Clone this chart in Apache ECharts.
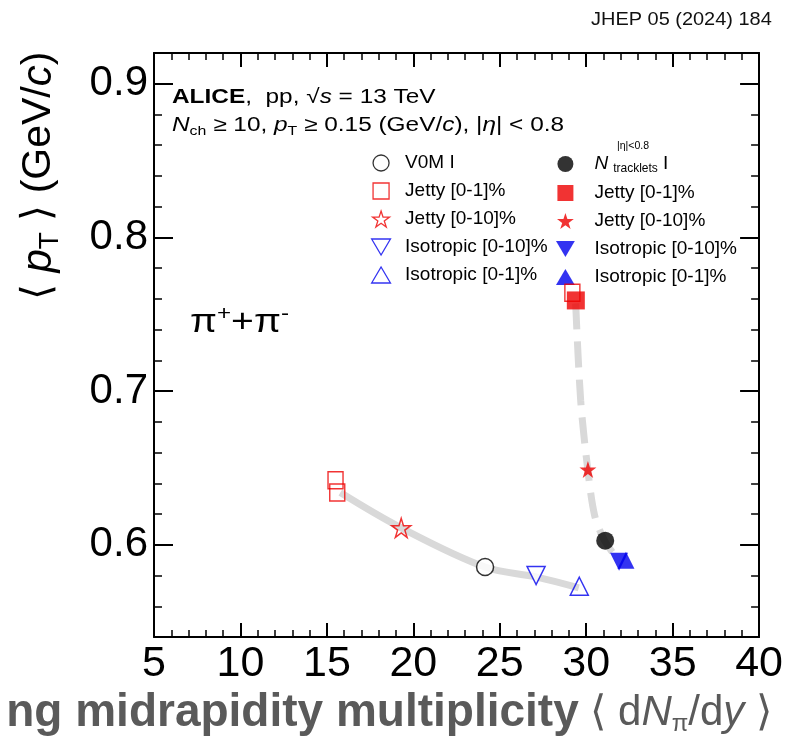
<!DOCTYPE html>
<html>
<head>
<meta charset="utf-8">
<script src="https://cdn.jsdelivr.net/npm/echarts@6/dist/echarts.min.js"></script>
<style>html,body{margin:0;padding:0;background:#fff}#c{width:786px;height:740px}</style>
</head>
<body>
<div id="c"></div>
<script>
// ---- data ----
const xTickValues = [5, 10, 15, 20, 25, 30, 35, 40];
const yTickValues = [0.6, 0.7, 0.8, 0.9];

// V0M-classified (open markers)
const v0mI = [[24.15, 0.5855]];
const v0mJetty01 = [[15.5, 0.642], [15.6, 0.634], [29.2, 0.764]];
const v0mJetty010 = [[19.3, 0.611]];
const v0mIso010 = [[27.1, 0.580]];
const v0mIso01 = [[29.6, 0.573]];
// Tracklet-classified (filled markers)
const trkI = [[31.1, 0.6027]];
const trkJetty01 = [[29.4, 0.759]];
const trkJetty010 = [[30.1, 0.649]];
const trkIso010 = [[31.9, 0.589]];
const trkIso01 = [[32.3, 0.590]];
// grey guide curves
const v0mCurve = [[15.78, 0.634], [19.3, 0.611], [24.15, 0.5855], [27.15, 0.579], [29.57, 0.572]];
const trkCurve = [[29.39, 0.757], [29.68, 0.694], [30.09, 0.649], [30.49, 0.619], [31.07, 0.6025], [31.87, 0.590]];

const legendLabels = {
  v0mI: 'V0M I', v0mJ1: 'Jetty [0-1]%', v0mJ10: 'Jetty [0-10]%', v0mI10: 'Isotropic [0-10]%', v0mI1: 'Isotropic [0-1]%',
  trkI: '{n|N}{sub|tracklets} I', trkJ1: 'Jetty [0-1]%', trkJ10: 'Jetty [0-10]%', trkI10: 'Isotropic [0-10]%', trkI1: 'Isotropic [0-1]%'
};

const FONT = '"Liberation Sans", Arial, sans-serif';
const RED = '#ee0000', BLUE = '#0000ee';
const STAR = 'path://M0,-10 L2.245,-3.09 L9.511,-3.09 L3.633,1.18 L5.878,8.09 L0,3.82 L-5.878,8.09 L-3.633,1.18 L-9.511,-3.09 L-2.245,-3.09 Z';
const SQ = 'path://M0,0 L10,0 L10,10 L0,10 Z';
const TRI_UP = 'path://M0,-9 L10,8 L-10,8 Z';
const TRI_DN = 'path://M-10,-8 L10,-8 L0,9 Z';

const chart = echarts.init(document.getElementById('c'), null, {renderer: 'canvas'});

const baseX = {
  type: 'value', min: 5, max: 40, interval: 5,
  axisLine: {show: true, onZero: false, lineStyle: {color: '#000', width: 2}},
  axisTick: {show: true, inside: true, length: 14, lineStyle: {color: '#000', width: 2}},
  minorTick: {show: true, splitNumber: 5, length: 7, lineStyle: {color: '#000', width: 1.5}},
  splitLine: {show: false}, minorSplitLine: {show: false}
};
const baseY = {
  type: 'value', min: 0.54, max: 0.92, interval: 0.02,
  axisLine: {show: true, onZero: false, lineStyle: {color: '#000', width: 2}},
  axisTick: {show: true, inside: true, length: 8, lineStyle: {color: '#000', width: 1.5}},
  axisLabel: {show: false},
  splitLine: {show: false}
};
const majorY = {
  type: 'value', min: 0.54, max: 0.92,
  axisLine: {show: false},
  axisTick: {show: true, inside: true, length: 19, customValues: yTickValues, lineStyle: {color: '#000', width: 2}},
  splitLine: {show: false}
};

function sc(name, data, symbol, size, style, extra) {
  return Object.assign({
    name: name, type: 'scatter', data: data, symbol: symbol, symbolSize: size,
    itemStyle: style, z: 5, xAxisIndex: 0, yAxisIndex: 0
  }, extra || {});
}
const openStyle = (c, fill) => ({color: fill || 'rgba(255,255,255,0)', borderColor: c, borderWidth: 1.5});
const legText = {fontSize: 19, fontFamily: FONT, color: '#000', lineHeight: 20};

const option = {
  animation: false,
  backgroundColor: '#fff',
  grid: {left: 154, right: 25, top: 53, bottom: 103, containLabel: false},
  xAxis: [
    Object.assign({}, baseX, {position: 'bottom', axisLabel: {show: true, fontSize: 43, color: '#000', fontFamily: FONT, margin: 6}}),
    Object.assign({}, baseX, {position: 'top', axisLabel: {show: false}})
  ],
  yAxis: [
    Object.assign({}, baseY, {position: 'left'}),
    Object.assign({}, majorY, {position: 'left',
      axisLabel: {show: true, customValues: yTickValues, fontSize: 42, color: '#000', fontFamily: FONT, margin: 6,
        formatter: v => v.toFixed(1)}}),
    Object.assign({}, baseY, {position: 'right'}),
    Object.assign({}, majorY, {position: 'right', axisLabel: {show: false}})
  ],
  legend: [
    {
      orient: 'vertical', left: 366, top: 148, itemWidth: 38, itemHeight: 16, itemGap: 8,
      selectedMode: false,
      textStyle: legText,
      formatter: n => legendLabels[n],
      data: [
        {name: 'v0mI', icon: 'circle', itemStyle: {color: '#fff', borderColor: '#000', borderWidth: 1.3}},
        {name: 'v0mJ1', icon: SQ, itemStyle: {color: '#fff', borderColor: RED, borderWidth: 1.3}},
        {name: 'v0mJ10', icon: STAR, itemStyle: {color: '#fff', borderColor: RED, borderWidth: 1.3}},
        {name: 'v0mI10', icon: TRI_DN, itemStyle: {color: '#fff', borderColor: BLUE, borderWidth: 1.3}},
        {name: 'v0mI1', icon: TRI_UP, itemStyle: {color: '#fff', borderColor: BLUE, borderWidth: 1.3}}
      ]
    },
    {
      orient: 'vertical', left: 551, top: 148, itemWidth: 48, itemHeight: 16, itemGap: 8,
      selectedMode: false,
      textStyle: Object.assign({}, legText, {
        rich: {
          n: {fontSize: 19, fontStyle: 'italic', fontFamily: FONT, color: '#000', lineHeight: 20},
          sub: {fontSize: 12, fontFamily: FONT, color: '#000', lineHeight: 10, padding: [10, 0, 0, 5]}
        }}),
      formatter: n => legendLabels[n],
      data: [
        {name: 'trkI', icon: 'circle', itemStyle: {color: '#000', borderWidth: 0}},
        {name: 'trkJ1', icon: SQ, itemStyle: {color: RED, borderWidth: 0}},
        {name: 'trkJ10', icon: STAR, itemStyle: {color: RED, borderWidth: 0}},
        {name: 'trkI10', icon: TRI_DN, itemStyle: {color: BLUE, borderWidth: 0}},
        {name: 'trkI1', icon: TRI_UP, itemStyle: {color: BLUE, borderWidth: 0}}
      ]
    }
  ],
  series: [
    {type: 'line', data: v0mCurve, smooth: 0.35, showSymbol: false, symbol: 'none', z: 1,
      lineStyle: {color: '#d9d9d9', width: 7}, silent: true},
    {type: 'line', data: trkCurve, smooth: 0.3, showSymbol: false, symbol: 'none', z: 1,
      lineStyle: {color: '#d9d9d9', width: 7, type: [26, 12]}, silent: true},
    sc('v0mJ1', v0mJetty01, 'rect', [15, 17], openStyle(RED)),
    sc('v0mJ10', v0mJetty010, STAR, 19, openStyle(RED)),
    sc('v0mI', v0mI, 'circle', 17, openStyle('#000', '#fff')),
    sc('v0mI10', v0mIso010, 'triangle', 18, openStyle(BLUE, '#fff'), {symbolRotate: 180}),
    sc('v0mI1', v0mIso01, 'triangle', 18, openStyle(BLUE)),
    sc('trkJ1', trkJetty01, 'rect', 18, {color: RED}),
    sc('trkJ10', trkJetty010, STAR, 17, {color: RED}),
    sc('trkI', trkI, 'circle', 18, {color: '#000'}),
    sc('trkI10', trkIso010, 'triangle', 18, {color: BLUE}, {symbolRotate: 180}),
    sc('trkI1', trkIso01, 'triangle', 17, {color: BLUE})
  ],
  graphic: [
    {type: 'text', x: 591, y: 10, scaleX: 1.05, style: {text: 'JHEP 05 (2024) 184', font: '19px ' + FONT, fill: '#111'}},
    {type: 'text', x: 172, y: 87, scaleX: 1.22, style: {
      text: '{b|ALICE},  pp, √{i|s} = 13 TeV',
      font: '20px ' + FONT, fill: '#000',
      rich: {b: {fontWeight: 'bold', fontSize: 20, fontFamily: FONT}, i: {fontStyle: 'italic', fontSize: 20, fontFamily: FONT}}
    }},
    {type: 'text', x: 172, y: 114, scaleX: 1.22, style: {
      text: '{i|N}{s|ch} ≥ 10, {i|p}{s|T} ≥ 0.15 (GeV/{i|c}), |{i|η}| < 0.8',
      font: '20px ' + FONT, fill: '#000',
      rich: {i: {fontStyle: 'italic', fontSize: 20, fontFamily: FONT, lineHeight: 22},
             s: {fontSize: 13, fontFamily: FONT, lineHeight: 10, padding: [12, 0, 0, 0]}}
    }},
    {type: 'text', x: 617, y: 141, style: {text: '|η|<0.8', font: '10.5px ' + FONT, fill: '#000'}},
    {type: 'text', x: 190, y: 306, scaleX: 1.15, style: {
      text: 'π{sp|+}+π{sp|-}', font: '34px ' + FONT, fill: '#000',
      rich: {sp: {fontSize: 21, fontFamily: FONT, padding: [0, 0, 17, 0], lineHeight: 21}}
    }},
    {type: 'text', x: 17, y: 300, rotation: Math.PI / 2, style: {
      text: '⟨ {i|p}{s|T} ⟩ (GeV/{i|c})', font: '41px ' + FONT, fill: '#000',
      rich: {i: {fontStyle: 'italic', fontSize: 42, fontFamily: FONT, lineHeight: 44},
             s: {fontSize: 28, fontFamily: FONT, lineHeight: 20, padding: [22, 0, 0, 0]}}
    }},
    {type: 'text', right: 14, top: 690, style: {
      text: '{b|ng midrapidity multiplicity} ⟨ d{i|N}{s|π}/d{i|y} ⟩',
      font: '42px ' + FONT, fill: '#5a5a5a',
      rich: {b: {fontWeight: 'bold', fontSize: 46, fontFamily: FONT, color: '#5a5a5a'},
             i: {fontStyle: 'italic', fontSize: 42, fontFamily: FONT, color: '#5a5a5a'},
             s: {fontSize: 24, fontFamily: FONT, color: '#5a5a5a', lineHeight: 14, padding: [22, 0, 0, 0]}}
    }}
  ]
};
chart.setOption(option);
</script>
</body>
</html>
